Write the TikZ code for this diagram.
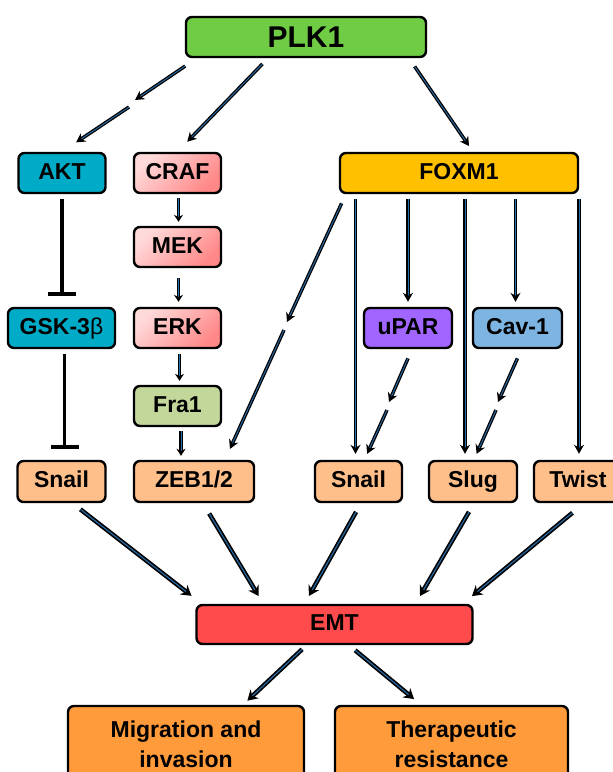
\documentclass[tikz,border=0pt]{standalone}
\usepackage{fontspec}
\setmainfont{Liberation Sans}
\usetikzlibrary{arrows.meta}

\definecolor{plkgreen}{RGB}{112,204,68}
\definecolor{aktteal}{RGB}{0,171,200}
\definecolor{foxgold}{RGB}{255,192,0}
\definecolor{uparpurple}{RGB}{160,102,255}
\definecolor{cavblue}{RGB}{126,180,226}
\definecolor{fragreen}{RGB}{195,215,155}
\definecolor{tfpeach}{RGB}{255,191,139}
\definecolor{emtred}{RGB}{255,75,75}
\definecolor{outorange}{RGB}{255,155,59}
\definecolor{pinklight}{RGB}{255,218,218}
\definecolor{pinkdark}{RGB}{255,135,135}
\definecolor{lineblue}{RGB}{40,110,170}

\begin{document}
\begin{tikzpicture}[
			x=1pt,
			y=-1pt,
			box/.style={draw, line width=2.4pt, rounded corners=6pt, align=center, inner sep=0pt, minimum height=40pt, text height=16.5pt, text depth=4.5pt, font=\fontsize{23}{30}\selectfont\bfseries},
			pinkbox/.style={box, top color=pinklight, bottom color=pinkdark, shading angle=45},
			arr/.style={draw=black, line width=1.3pt, double=lineblue, double distance=0.9pt, -{Stealth[length=9pt, width=10pt]}},
			chain/.style={arr, -{Stealth[length=7pt, width=9pt]}},
			bigarr/.style={arr, line width=1.7pt, double distance=1.1pt, -{Stealth[length=10pt, width=12pt]}},
			tee/.style={line width=3.5pt, -{Bar[width=28pt, line width=4pt]}}
		]
		\clip (0,0) rectangle (613,772);

		\node[box, fill=plkgreen, minimum width=240pt, font=\fontsize{30}{34}\selectfont\bfseries, text height=21.5pt, text depth=0pt] (plk1) at (306,37) {PLK1};

		\node[box, fill=aktteal, minimum width=87pt] (akt) at (62,173) {AKT};
		\node[pinkbox, minimum width=87pt] (craf) at (177.5,173) {CRAF};
		\node[box, fill=foxgold, minimum width=238pt] (foxm1) at (459,173) {FOXM1};

		\node[pinkbox, minimum width=87pt] (mek) at (177.5,247) {MEK};
		\node[box, fill=aktteal, minimum width=107pt] (gsk) at (61.5,328) {GSK-3{\mdseries β}};
		\node[pinkbox, minimum width=87pt] (erk) at (177.5,328) {ERK};
		\node[box, fill=uparpurple, minimum width=88pt] (upar) at (408,328) {uPAR};
		\node[box, fill=cavblue, minimum width=89pt] (cav) at (517.5,328) {Cav-1};
		\node[box, fill=fragreen, minimum width=87pt] (fra) at (177.5,406) {Fra1};

		\node[box, fill=tfpeach, minimum width=88pt, minimum height=41pt] (snailA) at (61.5,481.5) {Snail};
		\node[box, fill=tfpeach, minimum width=120pt, minimum height=41pt] (zeb) at (194,481.5) {ZEB1/2};
		\node[box, fill=tfpeach, minimum width=87pt, minimum height=41pt] (snailB) at (358.5,481.5) {Snail};
		\node[box, fill=tfpeach, minimum width=88pt, minimum height=41pt] (slug) at (473,481.5) {Slug};
		\node[box, fill=tfpeach, minimum width=88pt, minimum height=41pt] (twist) at (578,481.5) {Twist};

		\node[box, fill=emtred, minimum width=276pt, minimum height=39pt] (emt) at (334.5,624.5) {EMT};

		\node[box, fill=outorange, minimum width=236pt, minimum height=76pt, text height=, text depth=] (mig) at (186,744) {Migration and\\invasion};
		\node[box, fill=outorange, minimum width=233pt, minimum height=76pt, text height=, text depth=] (ther) at (451.5,744) {Therapeutic\\resistance};

		% PLK1 to first row
		\coordinate (aktgapa) at (135,100);
		\coordinate (aktgapb) at (129,107);
		\draw[arr, shorten <=14pt] ([xshift=12pt]plk1.south west) -- (aktgapa);
		\draw[arr, shorten >=17pt] (aktgapb) -- (akt.north);
		\draw[arr, shorten <=8pt, shorten >=14pt] ([xshift=-38pt]plk1.south) -- (craf.north);
		\draw[arr, shorten <=10pt, shorten >=7pt] ([xshift=103pt]plk1.south) -- ([xshift=14pt]foxm1.north);

		% AKT branch
		\draw[tee, shorten <=5pt, shorten >=11pt] (akt.south) -- (akt.south |- gsk.north);
		\draw[tee, shorten <=5pt, shorten >=11pt] ([xshift=3pt]gsk.south) -- ([xshift=3pt]snailA.north);

		% MAPK chain
		\draw[chain, shorten <=4pt, shorten >=4pt] ([xshift=1pt]craf.south) -- ([xshift=1pt]mek.north);
		\draw[chain, shorten <=10pt, shorten >=5pt] ([xshift=1pt]mek.south) -- ([xshift=1pt]erk.north);
		\draw[chain, shorten <=5pt, shorten >=4pt] ([xshift=2pt]erk.south) -- ([xshift=2pt]fra.north);
		\draw[chain, shorten <=4pt, shorten >=4pt] ([xshift=3.5pt]fra.south) -- ([xshift=3.5pt]fra.south |- zeb.north);

		% FOXM1 targets
		\coordinate (zebgapa) at (287,322);
		\coordinate (zebgapb) at (284,330);
		\draw[arr, shorten <=10pt] ([xshift=7pt]foxm1.south west) -- (zebgapa);
		\draw[arr, shorten >=12pt] (zebgapb) -- ([xshift=31pt]zeb.north);
		\draw[arr, shorten <=5pt, shorten >=6pt] ([xshift=-3pt]snailB.north |- foxm1.south) -- ([xshift=-3pt]snailB.north);
		\draw[arr, shorten <=5pt, shorten >=5pt] (upar.north |- foxm1.south) -- (upar.north);
		\draw[arr, shorten <=5pt, shorten >=6pt] ([xshift=-8pt]slug.north |- foxm1.south) -- ([xshift=-8pt]slug.north);
		\draw[arr, shorten <=5pt, shorten >=5pt] ([xshift=-2pt]cav.north |- foxm1.south) -- ([xshift=-2pt]cav.north);
		\draw[arr, shorten <=5pt, shorten >=6pt] ([xshift=1pt]twist.north |- foxm1.south) -- ([xshift=1pt]twist.north);

		\coordinate (snailgapa) at (389,402);
		\coordinate (snailgapb) at (387,410);
		\draw[arr, shorten <=10pt] ([xshift=4pt]upar.south) -- (snailgapa);
		\draw[arr, shorten >=6.5pt] (snailgapb) -- ([xshift=6pt]snailB.north);
		\coordinate (sluggapa) at (498,402);
		\coordinate (sluggapb) at (496,410);
		\draw[arr, shorten <=10pt] ([xshift=4pt]cav.south) -- (sluggapa);
		\draw[arr, shorten >=6.5pt] (sluggapb) -- ([xshift=1pt]slug.north);

		% into EMT
		\draw[bigarr, shorten <=10pt, shorten >=13pt] ([xshift=11pt]snailA.south) -- ([xshift=6.5pt]emt.north west);
		\draw[bigarr, shorten <=12pt, shorten >=9pt] ([xshift=9pt]zeb.south) -- ([xshift=68pt]emt.north west);
		\draw[bigarr, shorten <=10pt, shorten >=9pt] ([xshift=2.5pt]snailB.south) -- ([xshift=-30pt]emt.north);
		\draw[bigarr, shorten <=10pt, shorten >=9pt] ([xshift=1pt]slug.south) -- ([xshift=81pt]emt.north);
		\draw[bigarr, shorten <=15pt, shorten >=12pt] ([xshift=6pt]twist.south) -- ([xshift=-11pt]emt.north east);

		% outcomes
		\draw[bigarr, shorten <=6pt, shorten >=6pt] ([xshift=-28pt]emt.south) -- ([xshift=57pt]mig.north);
		\draw[bigarr, shorten <=8pt, shorten >=9pt] ([xshift=14.5pt]emt.south) -- ([xshift=-30.5pt]ther.north);
	\end{tikzpicture}
\end{document}
